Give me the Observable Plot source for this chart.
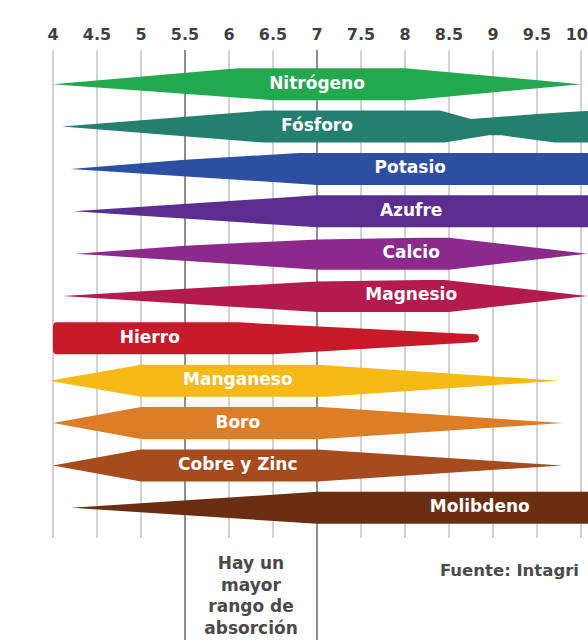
<!DOCTYPE html>
<html>
<head>
<meta charset="utf-8">
<script src="https://cdn.jsdelivr.net/npm/d3@7"></script>
<script src="https://cdn.jsdelivr.net/npm/@observablehq/plot@0.6"></script>
<style>
  html, body { margin: 0; padding: 0; background: #fff; overflow: hidden; }
  #chart svg { display: block; overflow: hidden; }
</style>
</head>
<body>
<div id="chart"></div>
<script>
// pH scale along the top
const phTicks = [4, 4.5, 5, 5.5, 6, 6.5, 7, 7.5, 8, 8.5, 9, 9.5, 10];
// pH interval where absorption is widest
const optimalRange = [5.5, 7];

const nutrients = [
  "Nitrógeno", "Fósforo", "Potasio", "Azufre", "Calcio", "Magnesio",
  "Hierro", "Manganeso", "Boro", "Cobre y Zinc", "Molibdeno"
];
const nutrientColors = [
  "#22a94f", "#247f6e", "#2c4fa1", "#5b2d8e", "#8c2a8b", "#b31b4f",
  "#c8192b", "#f6b915", "#de7d27", "#a64b1e", "#6a2e13"
];
// pH at which each band's name is centred
const labelPH = [7, 7, 8.06, 8.07, 8.07, 8.07, 5.1, 6.1, 6.1, 6.1, 8.85];

// Availability profile of each nutrient: [pH, relative thickness 0..1]
// upper edge and lower edge of the band, left to right
const upperEdge = [
  [[4.0, 0], [6.1, 1], [8.0, 1], [10.0, 0]],
  [[4.1, 0], [6.4, 1], [8.4, 1], [8.75, 0.47], [9.5, 0.78], [10.0, 0.95], [10.2, 1]],
  [[4.2, 0], [5.5, 0.57], [6.8, 1], [10.2, 1]],
  [[4.23, 0], [7.0, 1], [10.2, 1]],
  [[4.26, 0], [5.5, 0.5], [7.0, 0.88], [8.2, 1], [8.5, 1], [10.07, 0]],
  [[4.11, 0], [5.5, 0.46], [7.0, 0.9], [8.2, 1], [8.45, 1], [10.07, 0]],
  [[4.0, 1], [6.1, 1], [8.84, 0]],
  [[3.96, 0], [5.0, 1], [7.0, 1], [9.75, 0]],
  [[4.0, 0], [5.0, 1], [7.05, 1], [9.79, 0]],
  [[4.0, 0], [5.0, 1], [7.0, 1], [9.79, 0]],
  [[4.21, 0], [7.0, 1], [10.2, 1]]
];
const lowerEdge = [
  [[4.0, 0], [6.5, 1], [8.05, 1], [10.0, 0]],
  [[4.1, 0], [6.4, 1], [8.45, 1], [8.95, 0.55], [9.1, 0.55], [9.7, 1], [10.2, 1]],
  [[4.2, 0], [7.0, 1], [10.2, 1]],
  [[4.23, 0], [7.0, 1], [10.2, 1]],
  [[4.26, 0], [7.0, 1], [8.5, 1], [10.07, 0]],
  [[4.11, 0], [7.0, 1], [8.5, 1], [10.07, 0]],
  [[4.0, 1], [6.5, 1], [8.84, 0]],
  [[3.96, 0], [5.0, 1], [7.1, 1], [9.75, 0]],
  [[4.0, 0], [5.0, 1], [7.05, 1], [9.79, 0]],
  [[4.0, 0], [5.0, 1], [7.0, 1], [9.79, 0]],
  [[4.21, 0], [7.0, 1], [10.2, 1]]
];
// bands drawn with a rounded blunt end
const roundedEnds = ["Hierro"];

const rangeNote = "Hay un\nmayor\nrango de\nabsorción";
const sourceNote = "Fuente: Intagri";

// ---- layout ----
const W = 588, H = 640;
const ROW_PX = 42.36;        // distance between band centres
const FIRST_ROW_PX = 83.7;   // centre of the first band
const HALF_PX = 16;          // half thickness of a full band
const PX_PER_PH = 88;
const yDomain = [-FIRST_ROW_PX / ROW_PX, (H - FIRST_ROW_PX) / ROW_PX];
const half = HALF_PX / ROW_PX;
const gridTop = (50 - FIRST_ROW_PX) / ROW_PX;
const gridBottom = (538 - FIRST_ROW_PX) / ROW_PX;
const noteRow = (594 - FIRST_ROW_PX) / ROW_PX;
const CORNER = 4;

// Closed outline of a band: upper edge left→right, lower edge right→left
function outline(i) {
  const name = nutrients[i];
  const r = roundedEnds.includes(name) ? CORNER : 0;
  const up = upperEdge[i], lo = lowerEdge[i];
  const xs = up.concat(lo).map(d => d[0]);
  const x0 = d3.min(xs), x1 = d3.max(xs);
  const dx = r / PX_PER_PH;
  const sx = x => r ? x0 + dx + (x - x0) * (x1 - x0 - 2 * dx) / (x1 - x0) : x;
  const sf = (HALF_PX - r) / HALF_PX;
  const pts = [
    ...up.map(([x, f]) => ({x: sx(x), y: i - f * half * sf})),
    ...lo.slice().reverse().map(([x, f]) => ({x: sx(x), y: i + f * half * sf}))
  ];
  pts.push(pts[0]);
  return pts;
}

const font = "DejaVu Sans";

const bandMarks = nutrients.map((name, i) => {
  const rounded = roundedEnds.includes(name);
  return Plot.line(outline(i), {
    x: "x", y: "y",
    fill: nutrientColors[i],
    stroke: rounded ? nutrientColors[i] : "none",
    strokeWidth: rounded ? CORNER * 2 : 0,
    strokeLinejoin: "round",
    strokeLinecap: "round",
    curve: "linear"
  });
});

const lastTick = phTicks[phTicks.length - 1];
const tickText = {
  frameAnchor: "top", lineAnchor: "middle", dy: 34, text: d => `${d}`,
  fill: "#3f3f3f", fontSize: 16, fontWeight: "bold", fontFamily: font
};

const chart = Plot.plot({
  width: W,
  height: H,
  marginTop: 0,
  marginBottom: 0,
  marginLeft: 52.5,
  marginRight: 7.5,
  style: {fontFamily: font, background: "#fff"},
  x: {domain: [4, 10], axis: null},
  y: {domain: yDomain, reverse: true, axis: null},
  marks: [
    Plot.ruleX(phTicks.filter(t => !optimalRange.includes(t)), {
      y1: gridTop, y2: gridBottom, stroke: "#d2d2d2", strokeWidth: 2
    }),
    Plot.ruleX(optimalRange, {
      y1: gridTop, y2: yDomain[1], stroke: "#8f8f8f", strokeWidth: 2
    }),
    ...bandMarks,
    Plot.text(nutrients, {
      x: (d, i) => labelPH[i], y: (d, i) => i, dy: -1, text: d => d,
      fill: "#ffffff", fontSize: 17, fontWeight: "bold", fontFamily: font
    }),
    // pH tick labels; the last one is kept inside the right edge
    Plot.text(phTicks.slice(0, -1), {x: d => d, ...tickText}),
    Plot.text([lastTick], {x: d => d, textAnchor: "end", dx: 7, ...tickText}),
    Plot.text([rangeNote], {
      x: d3.mean(optimalRange), y: noteRow, text: d => d, lineHeight: 1.28,
      fill: "#4a4a4a", fontSize: 17, fontWeight: "bold", fontFamily: font
    }),
    Plot.text([sourceNote], {
      frameAnchor: "right", dx: -2, dy: 250, textAnchor: "end", text: d => d,
      fill: "#4a4a4a", fontSize: 16.5, fontWeight: "bold", fontFamily: font
    })
  ]
});

document.getElementById("chart").appendChild(chart);
</script>
</body>
</html>
